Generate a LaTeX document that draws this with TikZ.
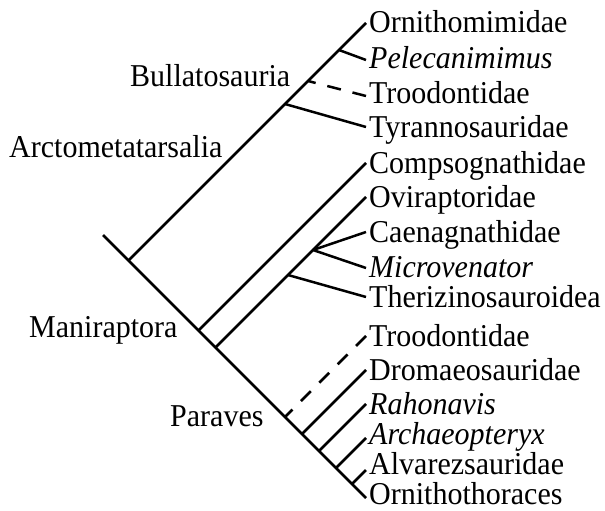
\documentclass[tikz,border=0pt]{standalone}
\usepackage{fontspec}
\setmainfont{Liberation Serif}
\newcommand{\vstr}[1]{\scalebox{1}[1.06]{#1}}
\begin{document}
\begin{tikzpicture}[x=1pt,y=-1pt,
  br/.style={line width=2.5pt},
  dbr/.style={line width=2.5pt, dash pattern=on 14pt off 12pt},
  tx/.style={anchor=base west, inner sep=0pt, font=\fontsize{30}{36}\selectfont},
  itx/.style={anchor=base west, inner sep=0pt, font=\fontsize{30}{36}\selectfont\itshape}]
\useasboundingbox (0,0) rectangle (605,511);
% branch points
\coordinate (root) at (103,235);
\coordinate (arc) at (128.5,260.5);
\coordinate (pel) at (339,50);
\coordinate (trb) at (308,81);
\coordinate (tyr) at (285,104);
\coordinate (man) at (198.5,330.5);
\coordinate (ovi) at (215.5,347.5);
\coordinate (cae) at (313,250);
\coordinate (ther) at (288,275);
\coordinate (par1) at (285,417);
\coordinate (par2) at (302,434);
\coordinate (par3) at (319,451);
\coordinate (par4) at (336,468);
\coordinate (par5) at (352,484);
% tips
\coordinate (tOmi) at (366,23);
\coordinate (tPel) at (366,60);
\coordinate (tTro1) at (366,96);
\coordinate (tTyr) at (366,127);
\coordinate (tCom) at (366,163);
\coordinate (tOvi) at (366,197);
\coordinate (tCae) at (366,232);
\coordinate (tMic) at (366,268);
\coordinate (tThe) at (366,297);
\coordinate (tTro2) at (366,336);
\coordinate (tDro) at (366,370);
\coordinate (tRah) at (366,404);
\coordinate (tArc) at (366,438);
\coordinate (tAlv) at (366,470);
\coordinate (tOrn) at (366,498);
% terminal labels
\node[tx]  (lOmi)  at (369,33)  {\vstr{Ornithomimidae}};
\node[itx] (lPel)  at (369,68)  {\vstr{Pelecanimimus}};
\node[tx]  (lTro1) at (369,103) {\vstr{Troodontidae}};
\node[tx]  (lTyr)  at (369,137) {\vstr{Tyrannosauridae}};
\node[tx]  (lCom)  at (369,173) {\vstr{Compsognathidae}};
\node[tx]  (lOvi)  at (369,207) {\vstr{Oviraptoridae}};
\node[tx]  (lCae)  at (369,242) {\vstr{Caenagnathidae}};
\node[itx] (lMic)  at (369,277) {\vstr{Microvenator}};
\node[tx]  (lThe)  at (369,307) {\vstr{Therizinosauroidea}};
\node[tx]  (lTro2) at (369,346) {\vstr{Troodontidae}};
\node[tx]  (lDro)  at (369,380) {\vstr{Dromaeosauridae}};
\node[itx] (lRah)  at (369,414) {\vstr{Rahonavis}};
\node[itx] (lArc)  at (369,444.5) {\vstr{Archaeopteryx}};
\node[tx]  (lAlv)  at (369,474.5) {\vstr{Alvarezsauridae}};
\node[tx]  (lOrn)  at (369,504) {\vstr{Ornithothoraces}};
% clade labels
\node[tx] (cBul) at (130,87)  {\vstr{Bullatosauria}};
\node[tx] (cArc) at (9,157)   {\vstr{Arctometatarsalia}};
\node[tx] (cMan) at (29,337)  {\vstr{Maniraptora}};
\node[tx] (cPar) at (170,426) {\vstr{Paraves}};
% tree
\draw[br] (root) -- (tOrn);
\draw[br] (arc) -- (tOmi);
\draw[br] (pel) -- (tPel);
\draw[dbr] (tTro1) -- (trb);
\draw[br] (tyr) -- (tTyr);
\draw[br] (man) -- (tCom);
\draw[br] (ovi) -- (tOvi);
\draw[br] (cae) -- (tCae);
\draw[br] (cae) -- (tMic);
\draw[br] (ther) -- (tThe);
\draw[dbr] (tTro2) -- (par1);
\draw[br] (par2) -- (tDro);
\draw[br] (par3) -- (tRah);
\draw[br] (par4) -- (tArc);
\draw[br] (par5) -- (tAlv);
\end{tikzpicture}
\end{document}
